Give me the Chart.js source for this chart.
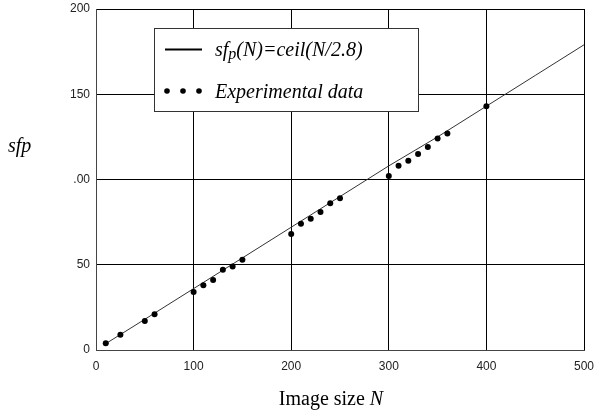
<!DOCTYPE html>
<html>
<head>
<meta charset="utf-8">
<script src="https://cdn.jsdelivr.net/npm/chart.js@4"></script>
<style>
  html, body { margin: 0; padding: 0; background: #fff; }
  #wrap { width: 594px; height: 416px; }
</style>
</head>
<body>
<div id="wrap"><canvas id="sfpChart" width="594" height="416"></canvas></div>
<script>
// measured sizes N and their sfp values
const expN   = [10, 25, 50, 60, 100, 110, 120, 130, 140, 150, 200, 210, 220, 230, 240, 250, 300, 310, 320, 330, 340, 350, 360, 400];
const expSfp = [4, 9, 17, 21, 34, 38, 41, 47, 49, 53, 68, 74, 77, 81, 86, 89, 102, 108, 111, 115, 119, 124, 127, 143];

// model curve sfp(N) = ceil(N/2.8), read at a few sizes
const modelN   = [8, 50, 100, 150, 200, 250, 300, 350, 400, 450, 500];
const modelSfp = [3, 18, 36, 54, 72, 90, 108, 125, 143, 161, 179];

const xTickLabels = ['0', '100', '200', '300', '400', '500'];
const yTickLabels = ['0', '50', '.00', '150', '200'];

const serif = '"Liberation Serif", "Times New Roman", serif';

function toPoints(xs, ys) {
  return xs.map((x, i) => ({ x: x, y: ys[i] }));
}

// legend box and axis titles drawn by hand
const decorations = {
  id: 'decorations',
  afterDraw(chart) {
    const ctx = chart.ctx;
    ctx.save();

    // legend
    ctx.fillStyle = '#fff';
    ctx.fillRect(154, 28, 264, 83);
    ctx.strokeStyle = '#333';
    ctx.lineWidth = 1;
    ctx.strokeRect(154.5, 28.5, 264, 83);

    ctx.strokeStyle = '#000';
    ctx.lineWidth = 2;
    ctx.beginPath();
    ctx.moveTo(165, 49.5);
    ctx.lineTo(202, 49.5);
    ctx.stroke();

    ctx.fillStyle = '#000';
    [167, 183, 199].forEach(x => {
      ctx.beginPath();
      ctx.arc(x, 91, 2.8, 0, Math.PI * 2);
      ctx.fill();
    });

    ctx.textBaseline = 'alphabetic';
    ctx.textAlign = 'left';
    ctx.font = 'italic 20px ' + serif;
    let x = 215;
    ctx.fillText('sf', x, 56);
    x += ctx.measureText('sf').width;
    ctx.font = 'italic 16px ' + serif;
    ctx.fillText('p', x, 59);
    x += ctx.measureText('p').width;
    ctx.font = 'italic 20px ' + serif;
    ctx.fillText('(N)=ceil(N/2.8)', x, 56);
    ctx.fillText('Experimental data', 215, 98);

    // y title
    ctx.font = 'italic 20px ' + serif;
    ctx.fillText('sfp', 8, 152);

    // x title
    const a = 'Image size ';
    ctx.font = '20px ' + serif;
    const wa = ctx.measureText(a).width;
    ctx.font = 'italic 20px ' + serif;
    const wb = ctx.measureText('N').width;
    const x0 = 331 - (wa + wb) / 2;
    ctx.font = '20px ' + serif;
    ctx.fillText(a, x0, 405);
    ctx.font = 'italic 20px ' + serif;
    ctx.fillText('N', x0 + wa, 405);

    ctx.restore();
  }
};

const ctx = document.getElementById('sfpChart').getContext('2d');

new Chart(ctx, {
  type: 'scatter',
  data: {
    datasets: [
      {
        label: 'Experimental data',
        data: toPoints(expN, expSfp),
        showLine: false,
        pointRadius: 3,
        pointBackgroundColor: '#000',
        pointBorderWidth: 0
      },
      {
        label: 'sfp(N)=ceil(N/2.8)',
        data: toPoints(modelN, modelSfp),
        showLine: true,
        borderColor: '#333',
        borderWidth: 1,
        pointRadius: 0
      }
    ]
  },
  options: {
    responsive: false,
    animation: false,
    events: [],
    layout: { padding: { top: 9, right: 10, left: 0, bottom: 0 } },
    plugins: {
      legend: { display: false },
      tooltip: { enabled: false }
    },
    scales: {
      x: {
        type: 'linear',
        min: 0,
        max: 500,
        afterFit(scale) {
          scale.height = 66;
          scale.paddingLeft = 0;
          scale.paddingRight = 0;
        },
        border: { display: true, color: '#444', width: 1 },
        grid: { color: '#000', lineWidth: 1, drawTicks: false },
        ticks: {
          stepSize: 100,
          padding: 9,
          color: '#222',
          font: { family: '"Liberation Sans", Arial, sans-serif', size: 12 },
          callback: (v, i) => xTickLabels[i]
        }
      },
      y: {
        type: 'linear',
        min: 0,
        max: 200,
        afterFit(scale) {
          scale.width = 96;
          scale.paddingTop = 0;
          scale.paddingBottom = 0;
        },
        border: { display: true, color: '#444', width: 1 },
        grid: { color: '#000', lineWidth: 1, drawTicks: false },
        ticks: {
          stepSize: 50,
          padding: 6,
          color: '#222',
          font: { family: '"Liberation Sans", Arial, sans-serif', size: 12 },
          callback: (v, i) => yTickLabels[i]
        }
      }
    }
  },
  plugins: [decorations]
});
</script>
</body>
</html>
